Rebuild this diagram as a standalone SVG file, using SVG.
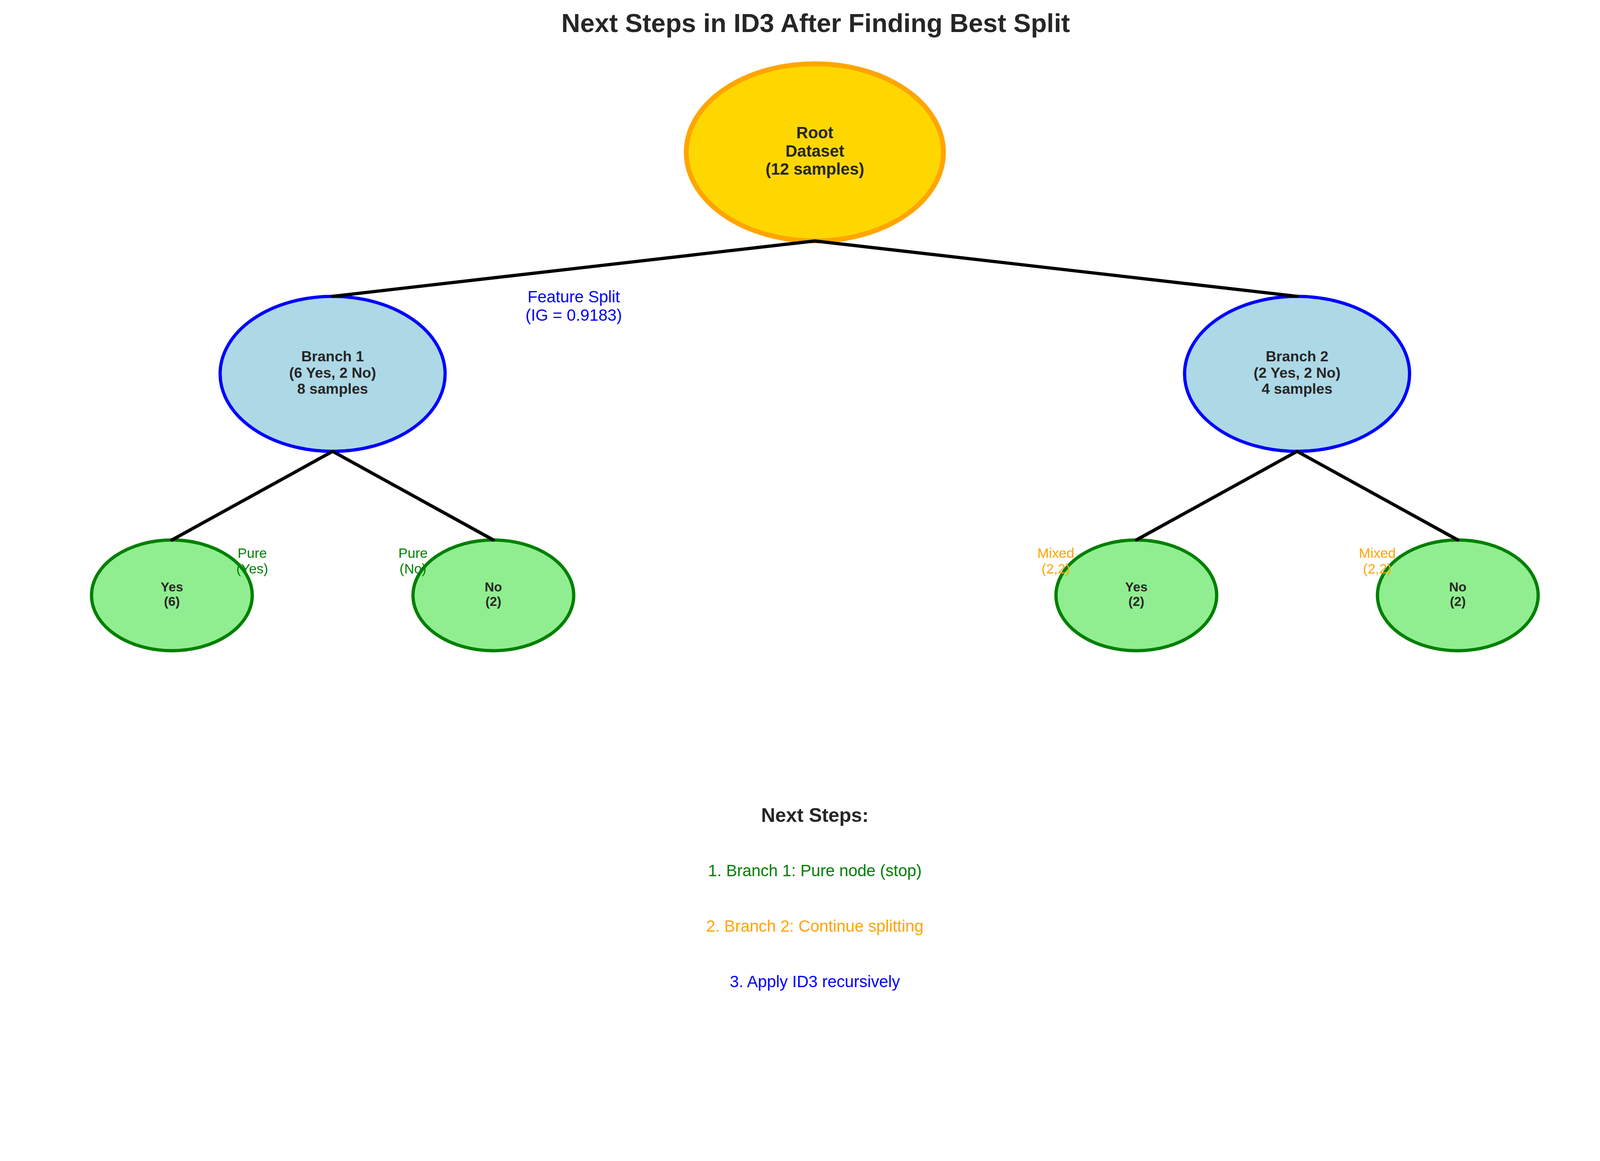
<svg xmlns="http://www.w3.org/2000/svg" width="4170" height="2972" viewBox="0 0 4170 2972">
<style>
text { font-family: "Liberation Sans", Arial, sans-serif; text-anchor: middle; }
.title { font-size: 66.7px; font-weight: bold; fill: #262626; }
.root-shape { fill: #FFD700; stroke: #FFA500; stroke-width: 12.5; }
.branch-shape { fill: #ADD8E6; stroke: #0000FF; stroke-width: 8.33; }
.leaf-shape { fill: #90EE90; stroke: #008000; stroke-width: 8.33; }
.root-text { font-size: 41.7px; font-weight: bold; fill: #262626; }
.branch-text { font-size: 37.5px; font-weight: bold; fill: #262626; }
.leaf-text { font-size: 33.3px; font-weight: bold; fill: #262626; }
.edge { stroke: #000000; stroke-width: 8.33; stroke-linecap: round; fill: none; }
.split-label { font-size: 41.7px; fill: #0000FF; }
.pure-label { font-size: 35.4px; fill: #008000; }
.mixed-label { font-size: 35.4px; fill: #FFA500; }
.steps-head { font-size: 50px; font-weight: bold; fill: #262626; }
.step { font-size: 41.7px; }
</style>
<rect width="4170" height="2972" fill="#FFFFFF"/>
<text id="title" class="title" x="2088" y="82">Next Steps in ID3 After Finding Best Split</text>

<g id="root">
<ellipse class="root-shape" cx="2086" cy="390" rx="329.2" ry="226.8"/>
<text class="root-text" x="2086" y="354">Root</text>
<text class="root-text" x="2086" y="400.5">Dataset</text>
<text class="root-text" x="2086" y="447">(12 samples)</text>
</g>

<g id="branch1">
<ellipse class="branch-shape" cx="851.5" cy="957" rx="288" ry="198.45"/>
<text class="branch-text" x="851.5" y="924.6">Branch 1</text>
<text class="branch-text" x="851.5" y="966.5">(6 Yes, 2 No)</text>
<text class="branch-text" x="851.5" y="1008.4">8 samples</text>
</g>

<g id="branch2">
<ellipse class="branch-shape" cx="3320.5" cy="957" rx="288" ry="198.45"/>
<text class="branch-text" x="3320.5" y="924.6">Branch 2</text>
<text class="branch-text" x="3320.5" y="966.5">(2 Yes, 2 No)</text>
<text class="branch-text" x="3320.5" y="1008.4">4 samples</text>
</g>

<g id="leaf1-yes">
<ellipse class="leaf-shape" cx="440" cy="1524" rx="205.75" ry="141.75"/>
<text class="leaf-text" x="440" y="1513.8">Yes</text>
<text class="leaf-text" x="440" y="1551">(6)</text>
</g>

<g id="leaf1-no">
<ellipse class="leaf-shape" cx="1263" cy="1524" rx="205.75" ry="141.75"/>
<text class="leaf-text" x="1263" y="1513.8">No</text>
<text class="leaf-text" x="1263" y="1551">(2)</text>
</g>

<g id="leaf2-yes">
<ellipse class="leaf-shape" cx="2909" cy="1524" rx="205.75" ry="141.75"/>
<text class="leaf-text" x="2909" y="1513.8">Yes</text>
<text class="leaf-text" x="2909" y="1551">(2)</text>
</g>

<g id="leaf2-no">
<ellipse class="leaf-shape" cx="3732" cy="1524" rx="205.75" ry="141.75"/>
<text class="leaf-text" x="3732" y="1513.8">No</text>
<text class="leaf-text" x="3732" y="1551">(2)</text>
</g>

<g id="connectors">
<line class="edge" x1="2086" y1="616.8" x2="851.5" y2="758.55"/>
<line class="edge" x1="2086" y1="616.8" x2="3320.5" y2="758.55"/>
<line class="edge" x1="851.5" y1="1155.45" x2="440" y2="1382.25"/>
<line class="edge" x1="851.5" y1="1155.45" x2="1263" y2="1382.25"/>
<line class="edge" x1="3320.5" y1="1155.45" x2="2909" y2="1382.25"/>
<line class="edge" x1="3320.5" y1="1155.45" x2="3732" y2="1382.25"/>
</g>

<g id="edge-labels">
<text class="split-label" x="1468.75" y="774.2">Feature Split</text>
<text class="split-label" x="1468.75" y="820.7">(IG = 0.9183)</text>
<text class="pure-label" x="645.75" y="1428.2">Pure</text>
<text class="pure-label" x="645.75" y="1467.7">(Yes)</text>
<text class="pure-label" x="1057.25" y="1428.2">Pure</text>
<text class="pure-label" x="1057.25" y="1467.7">(No)</text>
<text class="mixed-label" x="2703" y="1428.2">Mixed</text>
<text class="mixed-label" x="2703" y="1467.7">(2,2)</text>
<text class="mixed-label" x="3526" y="1428.2">Mixed</text>
<text class="mixed-label" x="3526" y="1467.7">(2,2)</text>
</g>

<g id="next-steps">
<text class="steps-head" x="2086" y="2103.7">Next Steps:</text>
<text class="step" x="2086" y="2243.3" fill="#008000">1. Branch 1: Pure node (stop)</text>
<text class="step" x="2086" y="2385" fill="#FFA500">2. Branch 2: Continue splitting</text>
<text class="step" x="2086" y="2526.8" fill="#0000FF">3. Apply ID3 recursively</text>
</g>
</svg>
